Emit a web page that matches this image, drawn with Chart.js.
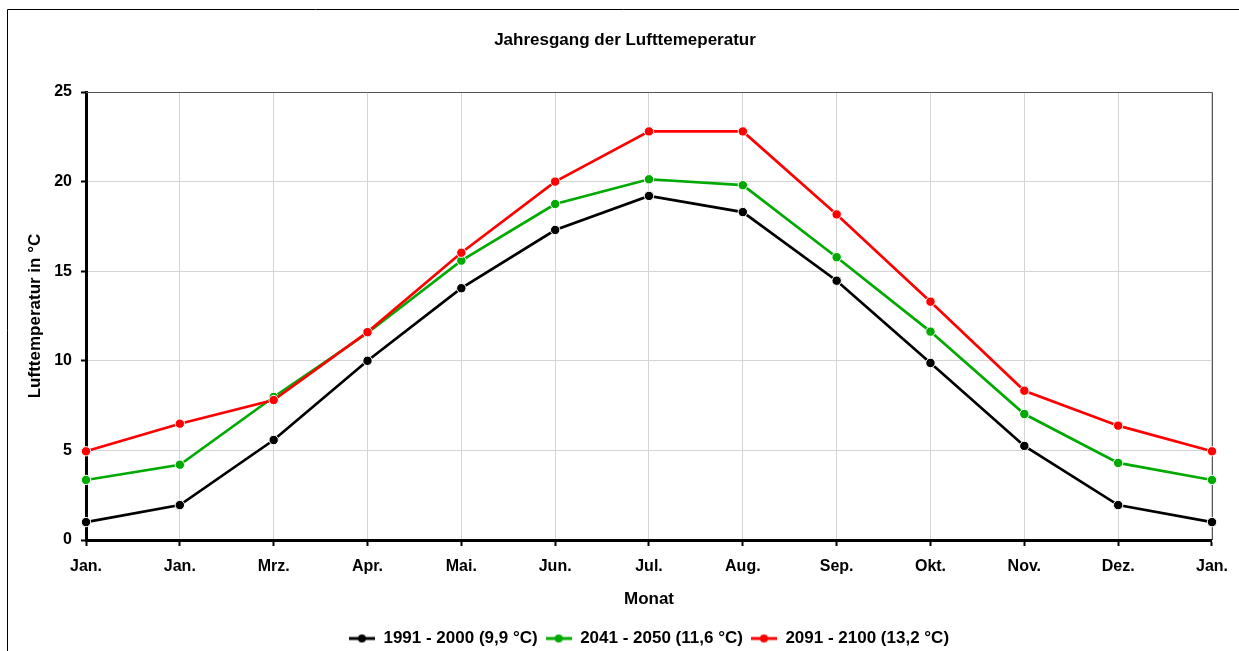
<!DOCTYPE html>
<html lang="de">
<head>
<meta charset="utf-8">
<title>Jahresgang der Lufttemeperatur</title>
<script src="https://cdn.jsdelivr.net/npm/chart.js@4/dist/chart.umd.min.js"></script>
<style>
  html, body { margin: 0; padding: 0; background: #fff; }
  #wrap { width: 1239px; height: 651px; }
</style>
</head>
<body>
<div id="wrap"><canvas id="klima" width="1239" height="651"></canvas></div>
<script>
'use strict';

const months = ['Jan.', 'Jan.', 'Mrz.', 'Apr.', 'Mai.', 'Jun.', 'Jul.', 'Aug.', 'Sep.', 'Okt.', 'Nov.', 'Dez.', 'Jan.'];

// Monatsmittel der Lufttemperatur in °C
const temp1991 = [1.0, 1.95, 5.58, 10.0, 14.05, 17.3, 19.2, 18.3, 14.47, 9.88, 5.25, 1.95, 1.0];
const temp2041 = [3.35, 4.2, 7.98, 11.55, 15.59, 18.75, 20.13, 19.8, 15.78, 11.63, 7.03, 4.3, 3.35];
const temp2091 = [4.95, 6.49, 7.81, 11.6, 16.03, 20.0, 22.8, 22.8, 18.17, 13.3, 8.33, 6.38, 4.95];

const seriesNames = ['1991 - 2000 (9,9 °C)', '2041 - 2050 (11,6 °C)', '2091 - 2100 (13,2 °C)'];
const yMin = 0;
const yMax = 25;
const yStep = 5;

const colors = ['#000000', '#00aa00', '#ff0000'];
const font = 'Arial, "Liberation Sans", sans-serif';

// little line-with-dot marks for the legend
const legendMarks = colors.map(function(c){
  const cv = document.createElement('canvas');
  cv.width = 26;
  cv.height = 10;
  const g = cv.getContext('2d');
  g.strokeStyle = c;
  g.lineWidth = 3;
  g.beginPath();
  g.moveTo(0, 5);
  g.lineTo(26, 5);
  g.stroke();
  g.fillStyle = c;
  g.beginPath();
  g.arc(13, 5, 4, 0, Math.PI * 2);
  g.fill();
  return cv;
});

// outer frame plus the thin top/right edge of the plot area
const framePlugin = {
  id: 'frame',
  afterLayout(chart){
    // title centred on the frame, legend centred under the plot
    const t = chart.titleBlock;
    t.left = 7;
    t.right = 1243;
    t.width = t.right - t.left;
    const l = chart.legend;
    l.left = chart.chartArea.left;
    l.right = chart.chartArea.right;
    l.width = l.right - l.left;
  },
  beforeDraw(chart){
    const ctx = chart.ctx;
    ctx.save();
    ctx.strokeStyle = '#000';
    ctx.lineWidth = 1;
    ctx.beginPath();
    ctx.moveTo(7.5, chart.height);
    ctx.lineTo(7.5, 9.5);
    ctx.lineTo(chart.width, 9.5);
    ctx.stroke();
    ctx.restore();
  },
  beforeDatasetsDraw(chart){
    const a = chart.chartArea;
    const ctx = chart.ctx;
    ctx.save();
    ctx.strokeStyle = '#555';
    ctx.lineWidth = 1;
    ctx.beginPath();
    ctx.moveTo(a.left, Math.round(a.top) + 0.5);
    ctx.lineTo(Math.round(a.right) + 0.5, Math.round(a.top) + 0.5);
    ctx.lineTo(Math.round(a.right) + 0.5, a.bottom);
    ctx.stroke();
    ctx.restore();
  }
};

const makeSet = function(i, values, order){
  return {
    label: seriesNames[i],
    data: values,
    borderColor: colors[i],
    backgroundColor: colors[i],
    borderWidth: 2.7,
    pointRadius: 4.7,
    pointBorderColor: '#ffffff',
    pointBorderWidth: 1,
    pointBackgroundColor: colors[i],
    tension: 0,
    order: order
  };
};

const ctx = document.getElementById('klima').getContext('2d');
const chart = new Chart(ctx, {
  type: 'line',
  data: {
    labels: months,
    datasets: [
      makeSet(0, temp1991, 3),
      makeSet(1, temp2041, 2),
      makeSet(2, temp2091, 1)
    ]
  },
  options: {
    responsive: false,
    animation: false,
    events: [],
    layout: { padding: { left: 0, right: 27, top: 0, bottom: -6 } },
    plugins: {
      title: {
        display: true,
        text: 'Jahresgang der Lufttemeperatur',
        color: '#000',
        font: { family: font, size: 17, weight: 'bold' },
        padding: { top: 30, bottom: 41.6 }
      },
      legend: {
        position: 'bottom',
        labels: {
          color: '#000',
          font: { family: font, size: 17, weight: 'bold' },
          usePointStyle: true,
          pointStyleWidth: 26,
          padding: 8,
          sort: function(a, b){ return a.datasetIndex - b.datasetIndex; },
          generateLabels: function(c){
            return Chart.defaults.plugins.legend.labels.generateLabels(c).map(function(item){
              item.pointStyle = legendMarks[item.datasetIndex];
              return item;
            });
          }
        }
      },
      tooltip: { enabled: false }
    },
    scales: {
      x: {
        offset: false,
        grid: { color: '#d4d4d4', lineWidth: 1, tickColor: '#000', tickWidth: 2, tickLength: 6 },
        border: { color: '#000', width: 3 },
        ticks: {
          color: '#000',
          padding: 11,
          maxRotation: 0,
          autoSkip: false,
          font: { family: font, size: 16, weight: 'bold' }
        },
        title: {
          display: true,
          text: 'Monat',
          color: '#000',
          font: { family: font, size: 17, weight: 'bold' },
          padding: { top: 0, bottom: 12 }
        },
        afterFit: function(scale){ scale.height = 82; }
      },
      y: {
        min: yMin,
        max: yMax,
        grid: { color: '#d4d4d4', lineWidth: 1, tickColor: '#000', tickWidth: 2, tickLength: 5 },
        border: { color: '#000', width: 3 },
        ticks: {
          stepSize: yStep,
          color: '#000',
          padding: 9,
          font: { family: font, size: 16, weight: 'bold' }
        },
        title: {
          display: true,
          text: 'Lufttemperatur in °C',
          color: '#000',
          font: { family: font, size: 17, weight: 'bold' },
          padding: { top: 25, bottom: 0 }
        },
        afterFit: function(scale){ scale.width = 86; }
      }
    }
  },
  plugins: [framePlugin]
});
</script>
</body>
</html>
